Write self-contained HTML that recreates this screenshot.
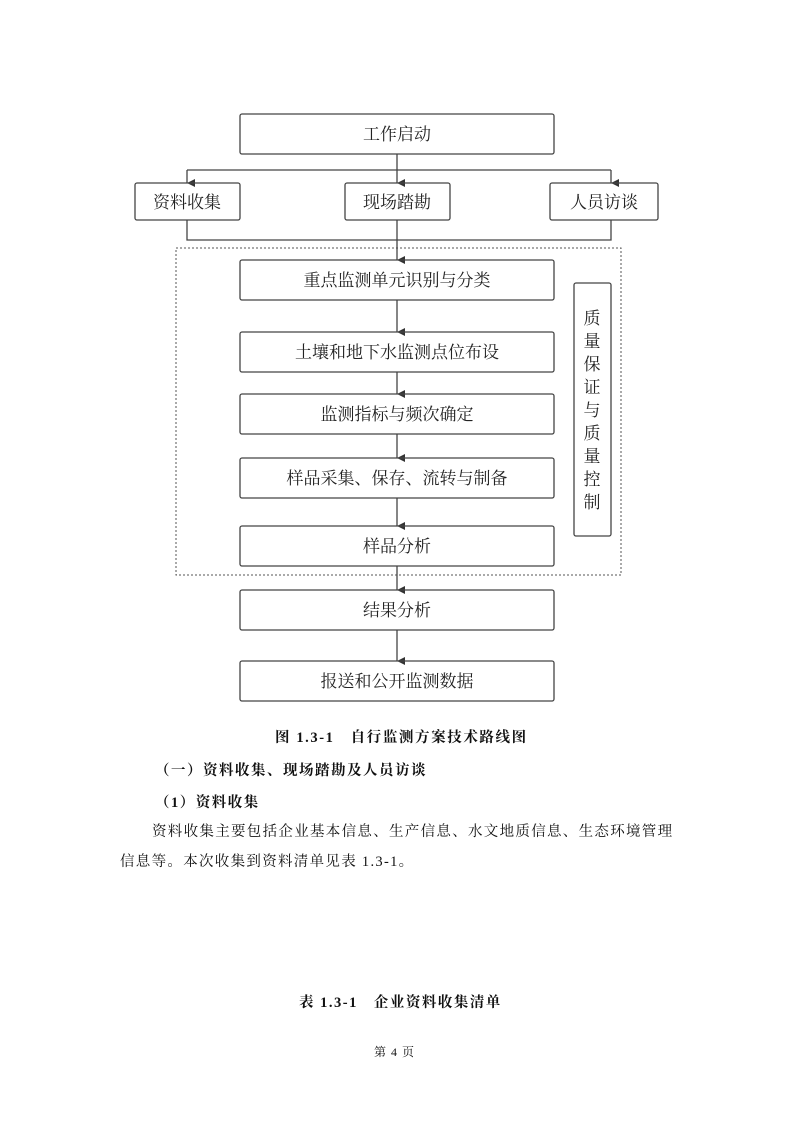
<!DOCTYPE html>
<html><head><meta charset="utf-8"><style>
body{margin:0;background:#fff;width:793px;height:1122px;position:relative;font-family:"Liberation Serif","Noto Serif CJK SC","Noto Sans CJK SC",serif;color:#111}
.t{position:absolute;white-space:nowrap}
.b{font-weight:bold}
</style></head><body>
<svg width="793" height="1122" style="position:absolute;left:0;top:0" font-family="Liberation Serif, Noto Serif CJK SC, serif" font-size="17" fill="#222">
<defs><marker id="a" markerWidth="8" markerHeight="8" refX="4" refY="8" orient="auto" markerUnits="userSpaceOnUse"><path d="M0,0 L8,0 L4,8 z" fill="#333"/></marker></defs>
<g stroke="#444" stroke-width="1.3" fill="none">
<rect x="176" y="248" width="445" height="327" stroke-dasharray="2,2" stroke="#555" stroke-width="1"/>
<line x1="397" y1="154" x2="397" y2="183" marker-end="url(#a)"/>
<line x1="187" y1="170" x2="611" y2="170"/>
<line x1="187" y1="170" x2="187" y2="183" marker-end="url(#a)"/>
<line x1="611" y1="170" x2="611" y2="183" marker-end="url(#a)"/>
<polyline points="187,220 187,240 611,240 611,220"/>
<line x1="397" y1="220" x2="397" y2="260" marker-end="url(#a)"/>
<line x1="397" y1="300" x2="397" y2="332" marker-end="url(#a)"/>
<line x1="397" y1="372" x2="397" y2="394" marker-end="url(#a)"/>
<line x1="397" y1="434" x2="397" y2="458" marker-end="url(#a)"/>
<line x1="397" y1="498" x2="397" y2="526" marker-end="url(#a)"/>
<line x1="397" y1="566" x2="397" y2="590" marker-end="url(#a)"/>
<line x1="397" y1="630" x2="397" y2="661" marker-end="url(#a)"/>
<rect x="240" y="114" width="314" height="40" rx="2"/>
<rect x="135" y="183" width="105" height="37" rx="2"/>
<rect x="345" y="183" width="105" height="37" rx="2"/>
<rect x="550" y="183" width="108" height="37" rx="2"/>
<rect x="240" y="260" width="314" height="40" rx="2"/>
<rect x="240" y="332" width="314" height="40" rx="2"/>
<rect x="240" y="394" width="314" height="40" rx="2"/>
<rect x="240" y="458" width="314" height="40" rx="2"/>
<rect x="240" y="526" width="314" height="40" rx="2"/>
<rect x="240" y="590" width="314" height="40" rx="2"/>
<rect x="240" y="661" width="314" height="40" rx="2"/>
<rect x="574" y="283" width="37" height="253" rx="2"/>
</g>
<g text-anchor="middle">
<text x="397" y="140">工作启动</text>
<text x="187" y="208">资料收集</text>
<text x="397" y="208">现场踏勘</text>
<text x="604" y="208">人员访谈</text>
<text x="397" y="286">重点监测单元识别与分类</text>
<text x="397" y="358">土壤和地下水监测点位布设</text>
<text x="397" y="420">监测指标与频次确定</text>
<text x="397" y="484">样品采集、保存、流转与制备</text>
<text x="397" y="552">样品分析</text>
<text x="397" y="616">结果分析</text>
<text x="397" y="687">报送和公开监测数据</text>
<text x="592" y="324">质</text><text x="592" y="347">量</text><text x="592" y="370">保</text><text x="592" y="393">证</text><text x="592" y="416">与</text><text x="592" y="439">质</text><text x="592" y="462">量</text><text x="592" y="485">控</text><text x="592" y="508">制</text>
</g>
</svg>
<div class="t b" style="left:275px;top:726px;font-size:14.5px;letter-spacing:1.6px">图 1.3-1　自行监测方案技术路线图</div>
<div class="t b" style="left:155px;top:759px;font-size:14.5px;letter-spacing:1.5px">（一）资料收集、现场踏勘及人员访谈</div>
<div class="t b" style="left:155px;top:791px;font-size:14.5px;letter-spacing:1.5px">（1）资料收集</div>
<div class="t" style="left:152px;top:820px;font-size:14.5px;letter-spacing:1.3px">资料收集主要包括企业基本信息、生产信息、水文地质信息、生态环境管理</div>
<div class="t" style="left:120px;top:850px;font-size:14.5px;letter-spacing:1.3px">信息等。本次收集到资料清单见表 1.3-1。</div>
<div class="t b" style="left:299px;top:991px;font-size:14.5px;letter-spacing:1.5px">表 1.3-1　企业资料收集清单</div>
<div class="t" style="left:374px;top:1043px;font-size:12px;letter-spacing:1px">第 4 页</div>
</body></html>
